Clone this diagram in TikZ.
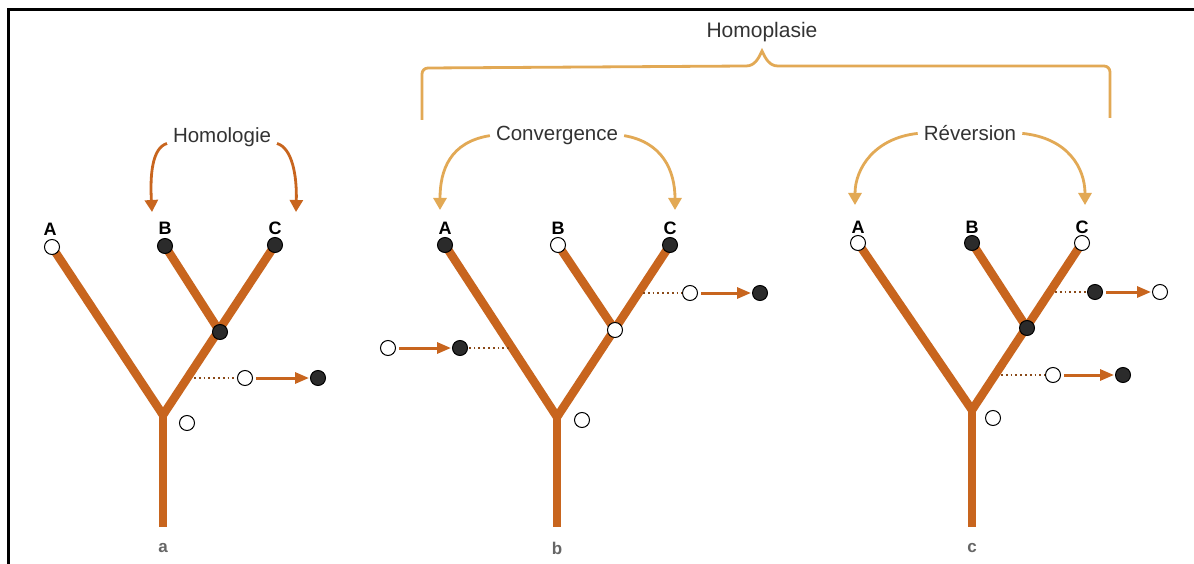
\documentclass[tikz,border=0pt]{standalone}
\usepackage{fontspec}
\setmainfont{Liberation Sans}
\usetikzlibrary{arrows.meta,backgrounds}
\definecolor{branch}{HTML}{C8651E}
\definecolor{tan}{HTML}{E2A955}
\definecolor{darkfill}{HTML}{2B2B2B}
\definecolor{txt}{HTML}{333333}
\definecolor{dotc}{HTML}{8A4A1A}
\tikzset{
  branchline/.style={draw=branch,line width=8.5pt,line cap=butt,line join=round},
  opennode/.style={circle,draw=black,line width=1pt,fill=white,minimum size=15pt,inner sep=0pt},
  fullnode/.style={circle,draw=black,line width=1pt,fill=darkfill,minimum size=15pt,inner sep=0pt},
  taxon/.style={font=\bfseries\fontsize{18}{18}\selectfont,text=black,inner sep=0pt},
  panel/.style={font=\bfseries\fontsize{17}{17}\selectfont,text=gray!80!black,inner sep=0pt},
  title/.style={font=\fontsize{20.5}{20.5}\selectfont,text=txt,inner sep=2pt},
  changearrow/.style={draw=branch,line width=3pt,-{Triangle[length=14pt,width=11pt]},shorten <=3pt,shorten >=1pt},
  dotline/.style={draw=dotc,line width=1.8pt,dash pattern=on 1.8pt off 3pt},
  bendarrow/.style={line width=2.8pt,-{Triangle[length=12pt,width=13pt]},shorten <=4pt},
  bracestyle/.style={draw=tan,line width=2.8pt}
}
\begin{document}
\begin{tikzpicture}[x=1pt,y=-1pt]
\useasboundingbox (0,0) rectangle (1194,564);
\begin{scope}[on background layer]
\fill[white] (0,0) rectangle (1194,564);
\end{scope}
% frame
\draw[line width=3pt,black] (8,564) -- (8,10) -- (1194,10);

% ===== Homoplasie brace =====
\node[title,font=\fontsize{21}{21}\selectfont] (homoplasie) at (762,32) {Homoplasie};
\coordinate (brL) at (422,120);
\coordinate (brR) at (1110,118);
\draw[bracestyle] (brL) -- (422,74) to[out=90,in=180] (428,68) -- (746,66) to[out=0,in=-115] (762,51) to[out=-65,in=180] (778,66) -- (1104,66) to[out=0,in=90] (1110,72) -- (brR);

% ===== Tree a =====
\coordinate (aroot) at (163,415);
\coordinate (abot) at (163,527);
\node[opennode] (aA) at (52,247) {};
\node[fullnode] (aB) at (165,246) {};
\node[fullnode] (aC) at (275,245) {};
\node[fullnode] (aI) at (220,332) {};
\begin{scope}[on background layer]
\draw[branchline] (aA.center) -- (aroot) -- (aC.center);
\draw[branchline] (aB.center) -- (aI.center);
\draw[branchline] (aroot) -- (abot);
\end{scope}
\node[opennode] (aR) at (187,423) {};
\node[taxon] at (50,229) {A};
\node[taxon] at (165,228) {B};
\node[taxon] at (275,228) {C};
\node[panel] (la) at (163,548) {a};
\coordinate (ad) at (194,378);
\node[opennode] (ao) at (245,378) {};
\node[fullnode] (af) at (318,378) {};
\draw[dotline] (ad) -- (ao);
\draw[changearrow] (ao) -- (af);
\node[title] (homologie) at (222,137) {Homologie};
\coordinate (ha1) at (152,212);
\coordinate (ha2) at (296,212);
\draw[bendarrow,draw=branch] (homologie.base west) .. controls (152,148) and (150,175) .. (ha1);
\draw[bendarrow,draw=branch] (homologie.base east) .. controls (292,148) and (297,175) .. (ha2);

% ===== Tree b =====
\coordinate (broot) at (557,417);
\coordinate (bbot) at (557,527);
\node[fullnode] (bA) at (445,245) {};
\node[opennode] (bB) at (558,245) {};
\node[fullnode] (bC) at (670,245) {};
\node[opennode] (bI) at (615,330) {};
\begin{scope}[on background layer]
\draw[branchline] (bA.center) -- (broot) -- (bC.center);
\draw[branchline] (bB.center) -- (bI.center);
\draw[branchline] (broot) -- (bbot);
\end{scope}
\node[opennode] (bR) at (582,420) {};
\node[taxon] at (445,228) {A};
\node[taxon] at (558,228) {B};
\node[taxon] at (670,228) {C};
\node[panel] (lb) at (557,548) {b};
\coordinate (bd1) at (509,348);
\node[fullnode] (bf1) at (460,348) {};
\node[opennode] (bo1) at (388,348) {};
\draw[dotline] (bd1) -- (bf1);
\draw[changearrow] (bo1) -- (bf1);
\coordinate (bd2) at (643,293);
\node[opennode] (bo2) at (690,293) {};
\node[fullnode] (bf2) at (760,293) {};
\draw[dotline] (bd2) -- (bo2);
\draw[changearrow] (bo2) -- (bf2);
\node[title] (convergence) at (557,135) {Convergence};
\coordinate (ca1) at (440,210);
\coordinate (ca2) at (675,210);
\draw[bendarrow,draw=tan] (convergence.west) .. controls (450,142) and (440,170) .. (ca1);
\draw[bendarrow,draw=tan] (convergence.east) .. controls (662,142) and (675,170) .. (ca2);

% ===== Tree c =====
\coordinate (croot) at (972,410);
\coordinate (cbot) at (972,527);
\node[opennode] (cA) at (858,243) {};
\node[fullnode] (cB) at (972,243) {};
\node[opennode] (cC) at (1082,243) {};
\node[fullnode] (cI) at (1027,328) {};
\begin{scope}[on background layer]
\draw[branchline] (cA.center) -- (croot) -- (cC.center);
\draw[branchline] (cB.center) -- (cI.center);
\draw[branchline] (croot) -- (cbot);
\end{scope}
\node[opennode] (cR) at (993,418) {};
\node[taxon] at (858,227) {A};
\node[taxon] at (972,227) {B};
\node[taxon] at (1082,227) {C};
\node[panel] (lc) at (972,548) {c};
\coordinate (cd1) at (1055,292);
\node[fullnode] (cf1) at (1095,292) {};
\node[opennode] (co1) at (1160,292) {};
\draw[dotline] (cd1) -- (cf1);
\draw[changearrow] (cf1) -- (co1);
\coordinate (cd2) at (1001,375);
\node[opennode] (co2) at (1053,375) {};
\node[fullnode] (cf2) at (1123,375) {};
\draw[dotline] (cd2) -- (co2);
\draw[changearrow] (co2) -- (cf2);
\node[title] (reversion) at (970,133) {Réversion};
\coordinate (ra1) at (855,205);
\coordinate (ra2) at (1085,205);
\draw[bendarrow,draw=tan] (reversion.west) .. controls (875,138) and (855,168) .. (ra1);
\draw[bendarrow,draw=tan] (reversion.east) .. controls (1068,138) and (1085,168) .. (ra2);
\end{tikzpicture}
\end{document}
